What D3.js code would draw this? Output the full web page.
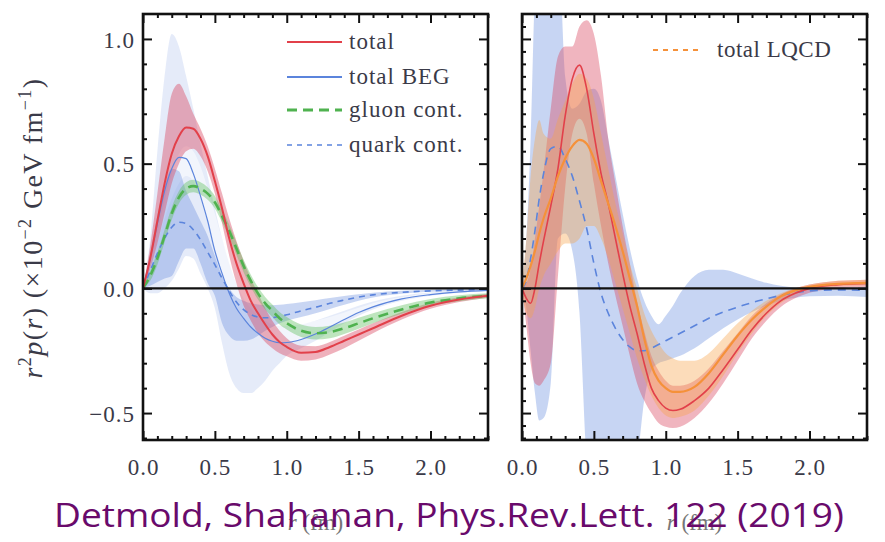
<!DOCTYPE html>
<html>
<head>
<meta charset="utf-8">
<script src="https://cdn.jsdelivr.net/npm/d3@7"></script>
<style>
  html, body { margin: 0; padding: 0; background: #fff; }
  svg { display: block; }
</style>
</head>
<body>
<svg id="chart" width="885" height="542"></svg>
<script>
// ---- left panel: sampled radii (fm) ----
const rLeft = [0,0.05,0.1,0.15,0.2,0.25,0.3,0.35,0.4,0.45,0.5,0.55,0.6,0.65,0.7,0.75,0.8,0.85,0.9,0.95,1.0,1.1,1.2,1.3,1.4,1.5,1.6,1.8,2.0,2.2,2.4];

// total (red)
const totalL   = [0,0.12,0.27,0.42,0.54,0.61,0.645,0.64,0.6,0.53,0.43,0.32,0.2,0.1,0.02,-0.05,-0.1,-0.145,-0.185,-0.215,-0.235,-0.258,-0.255,-0.235,-0.21,-0.185,-0.16,-0.11,-0.07,-0.045,-0.03];
const totalLHi = [0,0.17,0.38,0.6,0.78,0.82,0.77,0.7,0.64,0.57,0.48,0.38,0.28,0.19,0.11,0.04,-0.02,-0.08,-0.13,-0.17,-0.2,-0.23,-0.232,-0.215,-0.19,-0.165,-0.14,-0.095,-0.058,-0.036,-0.022];
const totalLLo = [0,0.08,0.18,0.3,0.42,0.5,0.55,0.56,0.53,0.47,0.38,0.26,0.13,0.02,-0.07,-0.13,-0.18,-0.215,-0.24,-0.26,-0.272,-0.29,-0.285,-0.265,-0.24,-0.21,-0.18,-0.125,-0.082,-0.055,-0.038];

// total BEG (blue, solid)
const begL       = [0,0.12,0.26,0.39,0.48,0.525,0.52,0.46,0.37,0.27,0.15,0.06,-0.02,-0.08,-0.12,-0.155,-0.18,-0.2,-0.212,-0.218,-0.217,-0.205,-0.183,-0.155,-0.125,-0.097,-0.074,-0.042,-0.025,-0.014,-0.008];
const begOuterHi = [0,0.2,0.55,0.85,1.02,0.97,0.85,0.72,0.58,0.45,0.32,0.2,0.1,0.02,-0.04,-0.08,-0.11,-0.13,-0.145,-0.15,-0.15,-0.145,-0.13,-0.11,-0.09,-0.07,-0.053,-0.03,-0.017,-0.01,-0.006];
const begOuterLo = [0,-0.02,-0.02,0.0,0.03,0.08,0.13,0.12,0.06,0.0,-0.08,-0.22,-0.34,-0.4,-0.42,-0.42,-0.4,-0.37,-0.33,-0.3,-0.27,-0.24,-0.21,-0.175,-0.14,-0.11,-0.085,-0.05,-0.03,-0.018,-0.01];
const begInnerHi = [0,0.1,0.22,0.35,0.46,0.54,0.57,0.55,0.49,0.4,0.3,0.2,0.11,0.03,-0.03,-0.07,-0.1,-0.12,-0.135,-0.14,-0.142,-0.14,-0.13,-0.115,-0.097,-0.078,-0.06,-0.035,-0.02,-0.012,-0.007];
const begInnerLo = [0,0.08,0.18,0.28,0.36,0.42,0.45,0.43,0.36,0.26,0.15,0.06,-0.02,-0.08,-0.12,-0.155,-0.18,-0.2,-0.212,-0.218,-0.217,-0.205,-0.183,-0.155,-0.125,-0.097,-0.074,-0.042,-0.025,-0.014,-0.008];

// gluon contribution (green, dashed)
const gluonL  = [0,0.05,0.12,0.21,0.3,0.365,0.4,0.41,0.4,0.38,0.345,0.29,0.23,0.16,0.09,0.03,-0.02,-0.06,-0.09,-0.12,-0.14,-0.17,-0.18,-0.175,-0.16,-0.14,-0.12,-0.085,-0.057,-0.04,-0.03];
const gluonHi = [0,0.07,0.145,0.235,0.325,0.39,0.425,0.435,0.425,0.405,0.37,0.315,0.255,0.185,0.115,0.055,0.005,-0.035,-0.065,-0.095,-0.115,-0.145,-0.155,-0.15,-0.137,-0.118,-0.1,-0.068,-0.043,-0.028,-0.02];
const gluonLo = [0,0.03,0.095,0.185,0.275,0.34,0.375,0.385,0.375,0.355,0.32,0.265,0.205,0.135,0.065,0.005,-0.045,-0.085,-0.115,-0.145,-0.165,-0.195,-0.205,-0.2,-0.183,-0.162,-0.14,-0.102,-0.071,-0.052,-0.04];

// quark contribution (blue, dashed)
const quarkL  = [0,0.07,0.14,0.2,0.245,0.265,0.26,0.235,0.195,0.145,0.095,0.04,-0.01,-0.055,-0.085,-0.105,-0.115,-0.118,-0.117,-0.112,-0.106,-0.09,-0.076,-0.06,-0.047,-0.035,-0.026,-0.016,-0.01,-0.007,-0.005];
const quarkHi = [0,0.14,0.29,0.41,0.48,0.47,0.39,0.33,0.27,0.21,0.13,0.05,0.0,-0.035,-0.05,-0.06,-0.065,-0.068,-0.068,-0.066,-0.063,-0.056,-0.048,-0.039,-0.031,-0.024,-0.018,-0.01,-0.006,-0.004,-0.003];
const quarkLo = [0,0.01,0.025,0.04,0.05,0.11,0.16,0.16,0.1,0.02,-0.03,-0.14,-0.19,-0.21,-0.21,-0.205,-0.19,-0.17,-0.155,-0.14,-0.13,-0.115,-0.1,-0.083,-0.066,-0.05,-0.037,-0.022,-0.014,-0.01,-0.007];

// ---- right panel: sampled radii (fm) ----
const rRight = [0,0.03,0.06,0.09,0.12,0.15,0.2,0.25,0.3,0.35,0.4,0.45,0.5,0.55,0.6,0.65,0.7,0.75,0.8,0.85,0.9,0.95,1.0,1.05,1.1,1.2,1.3,1.4,1.5,1.6,1.7,1.8,1.9,2.0,2.2,2.4];

// total (red)
const totalR   = [0,-0.04,-0.06,0.0,0.1,0.19,0.33,0.48,0.69,0.84,0.895,0.8,0.62,0.46,0.34,0.2,0.06,-0.07,-0.18,-0.3,-0.4,-0.45,-0.48,-0.49,-0.485,-0.45,-0.4,-0.325,-0.245,-0.165,-0.1,-0.05,-0.02,0.0,0.015,0.02];
const totalRHi = [0,0.02,0.08,0.2,0.33,0.47,0.72,0.93,0.97,0.97,1.05,1.075,1.02,0.85,0.6,0.42,0.25,0.1,-0.05,-0.17,-0.27,-0.33,-0.37,-0.39,-0.39,-0.37,-0.32,-0.25,-0.18,-0.11,-0.06,-0.025,0.0,0.015,0.03,0.035];
const totalRLo = [0,-0.15,-0.3,-0.38,-0.39,-0.37,-0.3,0.05,0.4,0.62,0.68,0.62,0.42,0.25,0.1,-0.03,-0.15,-0.27,-0.38,-0.45,-0.5,-0.54,-0.555,-0.56,-0.555,-0.52,-0.46,-0.38,-0.29,-0.2,-0.13,-0.075,-0.04,-0.018,0.0,0.005];

// total LQCD (orange)
const lqcdR   = [0,0.04,0.09,0.15,0.22,0.28,0.36,0.45,0.52,0.57,0.595,0.58,0.52,0.43,0.34,0.25,0.15,0.04,-0.07,-0.2,-0.31,-0.37,-0.4,-0.415,-0.415,-0.395,-0.34,-0.265,-0.19,-0.125,-0.073,-0.032,-0.008,0.006,0.018,0.022];
const lqcdRHi = [0.02,0.2,0.45,0.6,0.675,0.62,0.6,0.68,0.75,0.82,0.86,0.84,0.76,0.62,0.48,0.34,0.22,0.1,0.0,-0.1,-0.17,-0.22,-0.26,-0.28,-0.29,-0.29,-0.26,-0.2,-0.14,-0.09,-0.05,-0.02,0.0,0.015,0.03,0.035];
const lqcdRLo = [-0.02,-0.1,-0.12,-0.08,0.0,0.05,0.1,0.15,0.18,0.18,0.2,0.25,0.25,0.2,0.12,0.02,-0.08,-0.18,-0.28,-0.36,-0.43,-0.48,-0.51,-0.52,-0.515,-0.49,-0.43,-0.35,-0.26,-0.18,-0.11,-0.06,-0.025,-0.005,0.008,0.012];

// quark contribution (blue, dashed)
const quarkR   = [0,0.03,0.12,0.23,0.36,0.46,0.56,0.57,0.52,0.45,0.35,0.24,0.1,-0.02,-0.1,-0.16,-0.205,-0.235,-0.25,-0.25,-0.24,-0.225,-0.21,-0.195,-0.18,-0.15,-0.12,-0.095,-0.075,-0.057,-0.042,-0.028,-0.017,-0.01,-0.006,-0.008];
const quarkRHi = [0,0.2,0.6,1.2,1.4,1.4,1.4,1.4,0.85,0.72,0.74,0.79,0.8,0.75,0.6,0.45,0.3,0.16,0.04,-0.05,-0.11,-0.144,-0.11,-0.07,-0.02,0.05,0.075,0.075,0.06,0.04,0.022,0.01,0.003,0.0,-0.002,-0.004];
const quarkRLo = [0,-0.08,-0.25,-0.42,-0.53,-0.52,-0.38,0.2,0.22,0.15,-0.1,-0.7,-0.9,-0.9,-0.9,-0.9,-0.9,-0.85,-0.7,-0.45,-0.33,-0.3,-0.29,-0.28,-0.27,-0.24,-0.2,-0.16,-0.125,-0.095,-0.07,-0.05,-0.038,-0.032,-0.03,-0.035];

// ---- axes ----
const xMajor = [0, 0.5, 1.0, 1.5, 2.0];
const yMajor = [-0.5, 0.0, 0.5, 1.0];
const xDomain = [0, 2.4];
const yDomain = [-0.608, 1.1];

const C = {
  red: "#e2404a", redBand: "#d9465f",
  blue: "#5b84dc", blueBand: "#5b84dc",
  green: "#4fb24f", greenBand: "#5cbf5c",
  orange: "#f5913a", orangeBand: "#f7a24a",
  text: "#3a3a48"
};

const svg = d3.select("#chart");
const serif = "'Liberation Serif', 'DejaVu Serif', serif";

const panels = [
  { left: 143, right: 488, top: 14, bottom: 440, id: "L" },
  { left: 522, right: 867, top: 14, bottom: 440, id: "R" }
];

function makeScales(p) {
  return {
    x: d3.scaleLinear().domain(xDomain).range([p.left, p.right]),
    y: d3.scaleLinear().domain(yDomain).range([p.bottom, p.top])
  };
}

function zip(xs, ys) { return xs.map((r, i) => [r, ys[i]]); }

function band(g, s, xs, lo, hi, fill, op) {
  const a = d3.area()
    .x(d => s.x(d[0])).y0(d => s.y(d[1])).y1(d => s.y(d[2]))
    .curve(d3.curveMonotoneX);
  g.append("path").datum(xs.map((r, i) => [r, lo[i], hi[i]]))
    .attr("d", a).attr("fill", fill).attr("fill-opacity", op).attr("stroke", "none");
}

function line(g, s, xs, ys, color, width, dash) {
  const l = d3.line().x(d => s.x(d[0])).y(d => s.y(d[1])).curve(d3.curveMonotoneX);
  const p = g.append("path").datum(zip(xs, ys)).attr("d", l)
    .attr("fill", "none").attr("stroke", color).attr("stroke-width", width);
  if (dash) p.attr("stroke-dasharray", dash);
}

function frame(p, s, yMinorStepLeft, showYLabels) {
  const g = svg.append("g");
  const xMinor = d3.range(0, 2.41, 0.1).map(v => +v.toFixed(2)).filter(v => !xMajor.includes(v));
  const yMinorL = d3.range(-0.6, 1.1, yMinorStepLeft).map(v => +v.toFixed(2)).filter(v => !yMajor.includes(v));
  const yMinorR = d3.range(-0.6, 1.1, 0.1).map(v => +v.toFixed(2)).filter(v => !yMajor.includes(v));
  const tk = (sel) => sel.call(q => q.select(".domain").remove())
    .selectAll("line").attr("stroke", "#111").attr("stroke-width", 2);

  // major ticks on all four sides
  g.append("g").attr("transform", `translate(0,${p.bottom})`)
    .call(d3.axisBottom(s.x).tickValues(xMajor).tickSize(-9).tickFormat("")).call(tk);
  g.append("g").attr("transform", `translate(0,${p.top})`)
    .call(d3.axisTop(s.x).tickValues(xMajor).tickSize(-9).tickFormat("")).call(tk);
  g.append("g").attr("transform", `translate(${p.left},0)`)
    .call(d3.axisLeft(s.y).tickValues(yMajor).tickSize(-9).tickFormat("")).call(tk);
  g.append("g").attr("transform", `translate(${p.right},0)`)
    .call(d3.axisRight(s.y).tickValues(yMajor).tickSize(-9).tickFormat("")).call(tk);
  // minor ticks
  g.append("g").attr("transform", `translate(0,${p.bottom})`)
    .call(d3.axisBottom(s.x).tickValues(xMinor).tickSize(-4).tickFormat("")).call(tk);
  g.append("g").attr("transform", `translate(0,${p.top})`)
    .call(d3.axisTop(s.x).tickValues(xMinor).tickSize(-4).tickFormat("")).call(tk);
  g.append("g").attr("transform", `translate(${p.left},0)`)
    .call(d3.axisLeft(s.y).tickValues(yMinorL).tickSize(-4).tickFormat("")).call(tk);
  g.append("g").attr("transform", `translate(${p.right},0)`)
    .call(d3.axisRight(s.y).tickValues(yMinorR).tickSize(-4).tickFormat("")).call(tk);

  // zero line
  g.append("line").attr("x1", p.left).attr("x2", p.right)
    .attr("y1", s.y(0)).attr("y2", s.y(0))
    .attr("stroke", "#111").attr("stroke-width", 2.2);

  // frame
  g.append("rect").attr("x", p.left).attr("y", p.top)
    .attr("width", p.right - p.left).attr("height", p.bottom - p.top)
    .attr("fill", "none").attr("stroke", "#111").attr("stroke-width", 2.6);

  // tick labels
  const fmt = d3.format(".1f");
  const bx = svg.append("g").attr("transform", `translate(0,${p.bottom + 10})`)
    .call(d3.axisBottom(s.x).tickValues(xMajor).tickSize(0).tickFormat(fmt));
  bx.select(".domain").remove();
  bx.selectAll("text").attr("font-family", serif).attr("font-size", 23)
    .attr("fill", C.text).attr("letter-spacing", 1).attr("dy", "0.95em");
  if (showYLabels) {
    const ly = svg.append("g").attr("transform", `translate(${p.left - 5},0)`)
      .call(d3.axisLeft(s.y).tickValues(yMajor).tickSize(0).tickFormat(fmt));
    ly.select(".domain").remove();
    ly.selectAll("text").attr("font-family", serif).attr("font-size", 23)
      .attr("fill", C.text).attr("letter-spacing", 1).attr("dy", "0.36em");
  }

  // x-axis title
  const t = svg.append("text").attr("x", (p.left + p.right) / 2).attr("y", 530)
    .attr("text-anchor", "middle").attr("font-family", serif).attr("font-size", 23)
    .attr("fill", "#777");
  t.append("tspan").attr("font-style", "italic").text("r");
  t.append("tspan").text(" (fm)");
}

// ---- left panel ----
{
  const p = panels[0], s = makeScales(p);
  svg.append("clipPath").attr("id", "clipL").append("rect")
    .attr("x", p.left).attr("y", p.top).attr("width", p.right - p.left).attr("height", p.bottom - p.top);
  const g = svg.append("g").attr("clip-path", "url(#clipL)");
  band(g, s, rLeft, begOuterLo, begOuterHi, C.blueBand, 0.16);
  band(g, s, rLeft, begInnerLo, begInnerHi, "#ffffff", 0.5);
  band(g, s, rLeft, quarkLo, quarkHi, C.blueBand, 0.33);
  band(g, s, rLeft, totalLLo, totalLHi, C.redBand, 0.42);
  band(g, s, rLeft, gluonLo, gluonHi, C.greenBand, 0.4);
  line(g, s, rLeft, begL, C.blue, 1.2);
  line(g, s, rLeft, quarkL, C.blue, 1.6, "6,5");
  line(g, s, rLeft, gluonL, C.green, 2.6, "10,6");
  line(g, s, rLeft, totalL, C.red, 2);
  frame(p, s, 0.1, true);

  // legend
  const lg = svg.append("g").attr("font-family", serif).attr("font-size", 23).attr("fill", C.text);
  const items = [
    { label: "total", color: C.red, w: 2.2, dash: null, y: 42 },
    { label: "total BEG", color: C.blue, w: 1.8, dash: null, y: 77 },
    { label: "gluon cont.", color: C.green, w: 2.8, dash: "10,6", y: 110 },
    { label: "quark cont.", color: C.blue, w: 1.6, dash: "5,5", y: 145 }
  ];
  items.forEach(it => {
    const ln = lg.append("line").attr("x1", 287).attr("x2", 342).attr("y1", it.y).attr("y2", it.y)
      .attr("stroke", it.color).attr("stroke-width", it.w);
    if (it.dash) ln.attr("stroke-dasharray", it.dash);
    lg.append("text").attr("x", 349).attr("y", it.y).attr("dy", "0.32em")
      .attr("letter-spacing", 1).text(it.label);
  });
}

// ---- right panel ----
{
  const p = panels[1], s = makeScales(p);
  svg.append("clipPath").attr("id", "clipR").append("rect")
    .attr("x", p.left).attr("y", p.top).attr("width", p.right - p.left).attr("height", p.bottom - p.top);
  const g = svg.append("g").attr("clip-path", "url(#clipR)");
  band(g, s, rRight, quarkRLo, quarkRHi, C.blueBand, 0.34);
  band(g, s, rRight, totalRLo, totalRHi, C.redBand, 0.4);
  band(g, s, rRight, lqcdRLo, lqcdRHi, C.orangeBand, 0.38);
  line(g, s, rRight, quarkR, C.blue, 1.6, "8,6");
  line(g, s, rRight, totalR, C.red, 1.6);
  line(g, s, rRight, lqcdR, C.orange, 2.2);
  frame(p, s, 0.05, false);

  const lg = svg.append("g").attr("font-family", serif).attr("font-size", 23).attr("fill", C.text);
  lg.append("line").attr("x1", 653).attr("x2", 703).attr("y1", 50).attr("y2", 50)
    .attr("stroke", C.orange).attr("stroke-width", 1.8).attr("stroke-dasharray", "5,5");
  lg.append("text").attr("x", 717).attr("y", 50).attr("dy", "0.32em")
    .attr("letter-spacing", 0.5).text("total LQCD");
}

// ---- y-axis title ----
{
  const t = svg.append("text").attr("transform", "translate(42,228) rotate(-90)")
    .attr("text-anchor", "middle").attr("font-family", serif).attr("font-size", 28)
    .attr("letter-spacing", 1.4).attr("fill", C.text);
  t.append("tspan").attr("font-style", "italic").text("r");
  t.append("tspan").attr("font-size", 18).attr("dy", -11).text("2");
  t.append("tspan").attr("font-style", "italic").attr("dy", 11).text("p");
  t.append("tspan").text("(");
  t.append("tspan").attr("font-style", "italic").text("r");
  t.append("tspan").text(")  (×10");
  t.append("tspan").attr("font-size", 18).attr("dy", -11).text("−2");
  t.append("tspan").attr("dy", 11).text(" GeV fm");
  t.append("tspan").attr("font-size", 18).attr("dy", -11).text("−1");
  t.append("tspan").attr("dy", 11).text(")");
}

// ---- citation ----
svg.append("text").attr("x", 54).attr("y", 527)
  .attr("font-family", "'Open Sans', 'Noto Sans', sans-serif").attr("font-size", 33)
  .attr("fill", "#690a6b").attr("textLength", 790).attr("lengthAdjust", "spacingAndGlyphs")
  .text("Detmold, Shahanan, Phys.Rev.Lett. 122 (2019)");
</script>
</body>
</html>
